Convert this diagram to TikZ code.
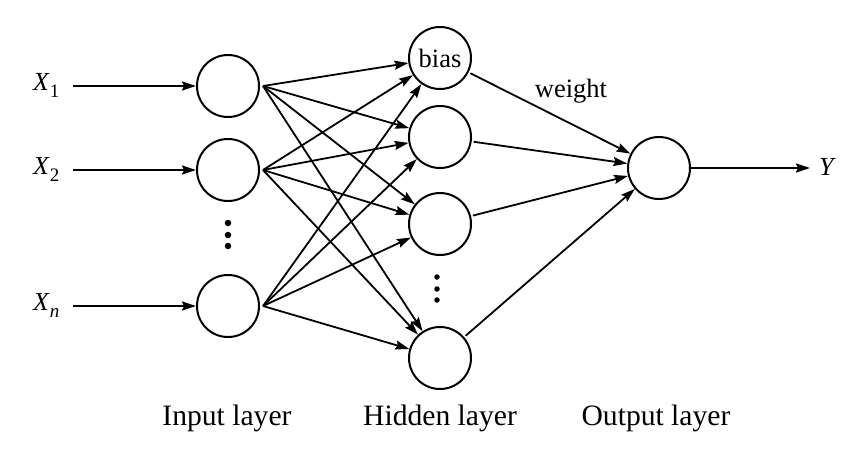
\documentclass[tikz,border=0pt]{standalone}
\usepackage{fontspec}
\setmainfont{Liberation Serif}
\usetikzlibrary{arrows.meta}
\begin{document}
\begin{tikzpicture}[x=1pt,y=-1pt,
  neuron/.style={draw,circle,line width=2pt,minimum size=62pt,inner sep=0pt,font=\fontsize{26.5}{30}\selectfont},
  conn/.style={line width=1.8pt,-{Stealth[length=14pt,width=9pt,inset=2pt]}},
  lbl/.style={font=\fontsize{29.6}{34}\selectfont,anchor=base,inner sep=0pt},
  xin/.style={font=\fontsize{26}{30}\selectfont,anchor=base west,inner sep=0pt},
  dotmark/.style={fill,circle,inner sep=0pt,minimum size=6.5pt}]
\useasboundingbox (0,0) rectangle (864,456);
% input nodes
\node[neuron] (i1) at (228,86) {};
\node[neuron] (i2) at (228,170) {};
\node[neuron] (in) at (228,306) {};
% hidden nodes
\node[neuron] (h1) at (440,58) {bias};
\node[neuron] (h2) at (440,137) {};
\node[neuron] (h3) at (440,224) {};
\node[neuron] (h4) at (440,358) {};
% output node
\node[neuron] (o) at (659,168) {};
% input labels
\node[xin] (x1) at (33,90) {\textit{X}\raisebox{-0.28em}{\fontsize{19}{20}\selectfont 1}};
\node[xin] (x2) at (33,174) {\textit{X}\raisebox{-0.28em}{\fontsize{19}{20}\selectfont 2}};
\node[xin] (xn) at (33,310) {\textit{X}\raisebox{-0.28em}{\fontsize{19}{20}\selectfont\textit{n}}};
\coordinate (s1) at (73,86);
\coordinate (s2) at (73,170);
\coordinate (sn) at (73,306);
\draw[conn] (s1) -- (i1);
\draw[conn] (s2) -- (i2);
\draw[conn] (sn) -- (in);
% input -> hidden
\foreach \a in {i1,i2,in}{
  \foreach \b in {h1,h2,h3,h4}{
    \draw[conn] ([xshift=3pt]\a.east) -- (\b);
  }
}
% hidden -> output
\foreach \b in {h1,h2,h3,h4}{
  \draw[conn,shorten <=2pt] (\b) -- (o);
}
% output
\coordinate (ye) at (810,168);
\draw[conn] (o) -- (ye);
\node[xin] (y) at (819,175) {\textit{Y}};
% dots
\node[dotmark] (d1) at (228,223) {};
\node[dotmark] (d2) at (228,235) {};
\node[dotmark] (d3) at (228,246) {};
\node[dotmark,minimum size=5.5pt] (e1) at (437,277) {};
\node[dotmark,minimum size=5.5pt] (e2) at (437,289) {};
\node[dotmark,minimum size=5.5pt] (e3) at (437,300) {};
% weight label
\node[font=\fontsize{26.5}{30}\selectfont,anchor=base,inner sep=0pt] (w) at (571,97) {weight};
% layer labels
\node[lbl] (l1) at (227,425) {Input layer};
\node[lbl] (l2) at (440,425) {Hidden layer};
\node[lbl] (l3) at (656,425) {Output layer};
\end{tikzpicture}
\end{document}
